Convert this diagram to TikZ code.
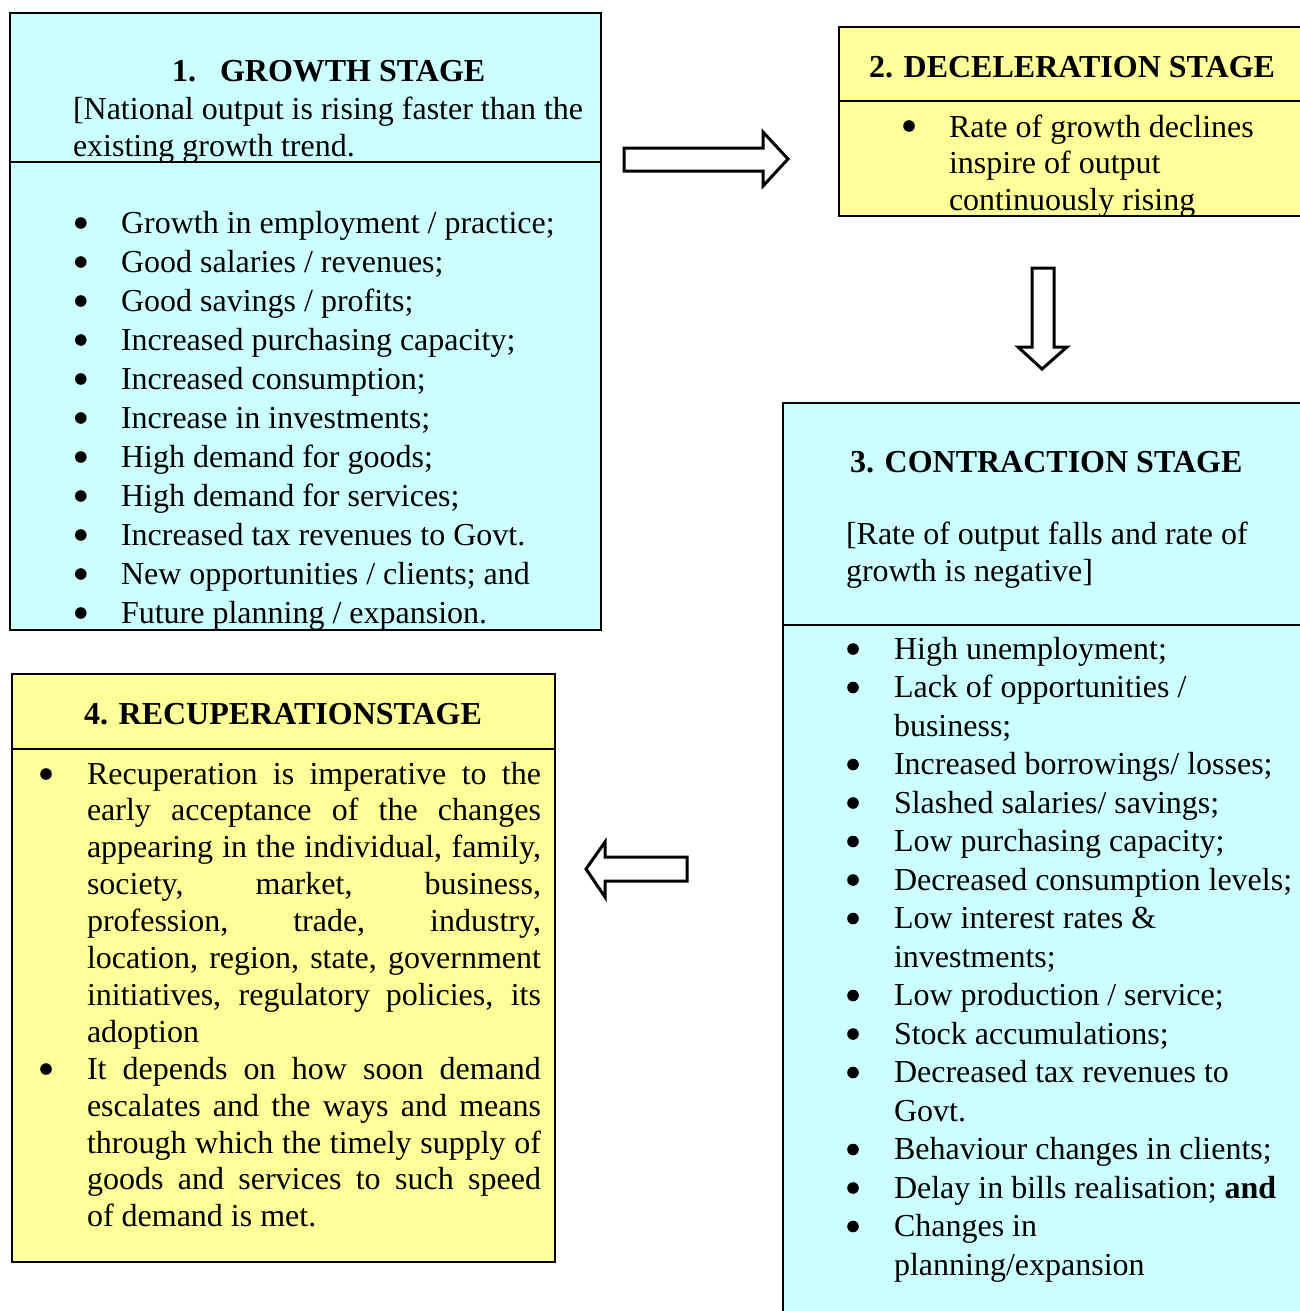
\documentclass[tikz,border=0pt]{standalone}
\usepackage{fontspec}
\setmainfont{Liberation Serif}
\definecolor{cyanbg}{HTML}{CCFFFF}
\definecolor{yellowbg}{HTML}{FFFF99}
\newcommand\jl[1]{\makebox[454pt][s]{#1}}
\begin{document}
\begin{tikzpicture}[x=1pt,y=-1pt,
  stagebox/.style={draw=black, line width=2.5pt, inner sep=0pt, outer sep=0pt, anchor=north west},
  divider/.style={draw=black, line width=2.2pt},
  hd/.style={anchor=base west, inner sep=0pt, outer sep=0pt, font=\fontsize{32}{36}\selectfont\bfseries},
  txt/.style={anchor=base west, inner sep=0pt, outer sep=0pt, font=\fontsize{32}{#1}\selectfont},
  blockarrow/.style={draw=black, fill=white, line width=3pt, line join=miter},
  dot/.style={fill=black}]
\useasboundingbox (0,0) rectangle (1299,1311);
\fill[white] (0,0) rectangle (1299,1311);

% boxes
\node[stagebox, fill=cyanbg, minimum width=591pt, minimum height=617pt] (growth) at (10,13) {};
\draw[divider] (10,162) -- (601,162);
\node[stagebox, fill=yellowbg, minimum width=464pt, minimum height=189pt] (decel) at (839,27) {};
\draw[divider] (839,101) -- (1303,101);
\node[stagebox, fill=cyanbg, minimum width=520pt, minimum height=917pt] (contr) at (783,403) {};
\draw[divider] (783,625) -- (1303,625);
\node[stagebox, fill=yellowbg, minimum width=543pt, minimum height=588pt] (recup) at (12,674) {};
\draw[divider] (12,749) -- (555,749);

% box 1
\node[hd] (g-head) at (172,82) {\makebox[48pt][l]{1.}GROWTH STAGE};
\node[txt=36] (g-sub) at (73,120) {\begin{tabular}[t]{@{}l@{}}[National output is rising faster than the\\existing growth trend.\end{tabular}};
\node[txt=39] (g-list) at (121,233) {\begin{tabular}[t]{@{}l@{}}Growth in employment / practice;\\Good salaries / revenues;\\Good savings / profits;\\Increased purchasing capacity;\\Increased consumption;\\Increase in investments;\\High demand for goods;\\High demand for services;\\Increased tax revenues to Govt.\\New opportunities / clients; and\\Future planning / expansion.\end{tabular}};
\foreach \i in {0,...,10} \fill[dot] (80.8,223+39*\i) circle[radius=5.8];

% box 2
\node[hd] (d-head) at (869,78) {2. DECELERATION STAGE};
\node[txt=36.8] (d-list) at (949,137) {\begin{tabular}[t]{@{}l@{}}Rate of growth declines\\inspire of output\\continuously rising\end{tabular}};
\fill[dot] (909,126) circle[radius=5.8];

% box 3
\node[hd] (c-head) at (850,472) {3. CONTRACTION STAGE};
\node[txt=37] (c-sub) at (846,544) {\begin{tabular}[t]{@{}l@{}}[Rate of output falls and rate of\\growth is negative]\end{tabular}};
\node[txt=38.5] (c-list) at (894,659) {\begin{tabular}[t]{@{}l@{}}High unemployment;\\Lack of opportunities /\\business;\\Increased borrowings/ losses;\\Slashed salaries/ savings;\\Low purchasing capacity;\\Decreased consumption levels;\\Low interest rates \&\\investments;\\Low production / service;\\Stock accumulations;\\Decreased tax revenues to\\Govt.\\Behaviour changes in clients;\\Delay in bills realisation; \textbf{and}\\Changes in\\planning/expansion\end{tabular}};
\foreach \k in {0,1,3,4,5,6,7,9,10,11,13,14,15} \fill[dot] (853,649+38.5*\k) circle[radius=5.8];

% box 4
\node[hd] (r-head) at (84,724) {4. RECUPERATIONSTAGE};
\node[txt=36.9] (r-list) at (87,784) {\begin{tabular}[t]{@{}l@{}}\jl{Recuperation is imperative to the}\\\jl{early acceptance of the changes}\\\jl{appearing in the individual, family,}\\\jl{society, market, business,}\\\jl{profession, trade, industry,}\\\jl{location, region, state, government}\\\jl{initiatives, regulatory policies, its}\\adoption\\\jl{It depends on how soon demand}\\\jl{escalates and the ways and means}\\\jl{through which the timely supply of}\\\jl{goods and services to such speed}\\of demand is met.\end{tabular}};
\fill[dot] (46,774) circle[radius=5.8];
\fill[dot] (46,1069) circle[radius=5.8];

% block arrows
\draw[blockarrow] (624,148) -- (763,148) -- (763,132) -- (788,159) -- (763,186) -- (763,171) -- (624,171) -- cycle;
\draw[blockarrow] (1032,268) -- (1054,268) -- (1054,347) -- (1067,347) -- (1042,369) -- (1018,347) -- (1032,347) -- cycle;
\draw[blockarrow] (687,857) -- (605,857) -- (605,842) -- (586,869) -- (605,897) -- (605,881) -- (687,881) -- cycle;
\end{tikzpicture}
\end{document}
